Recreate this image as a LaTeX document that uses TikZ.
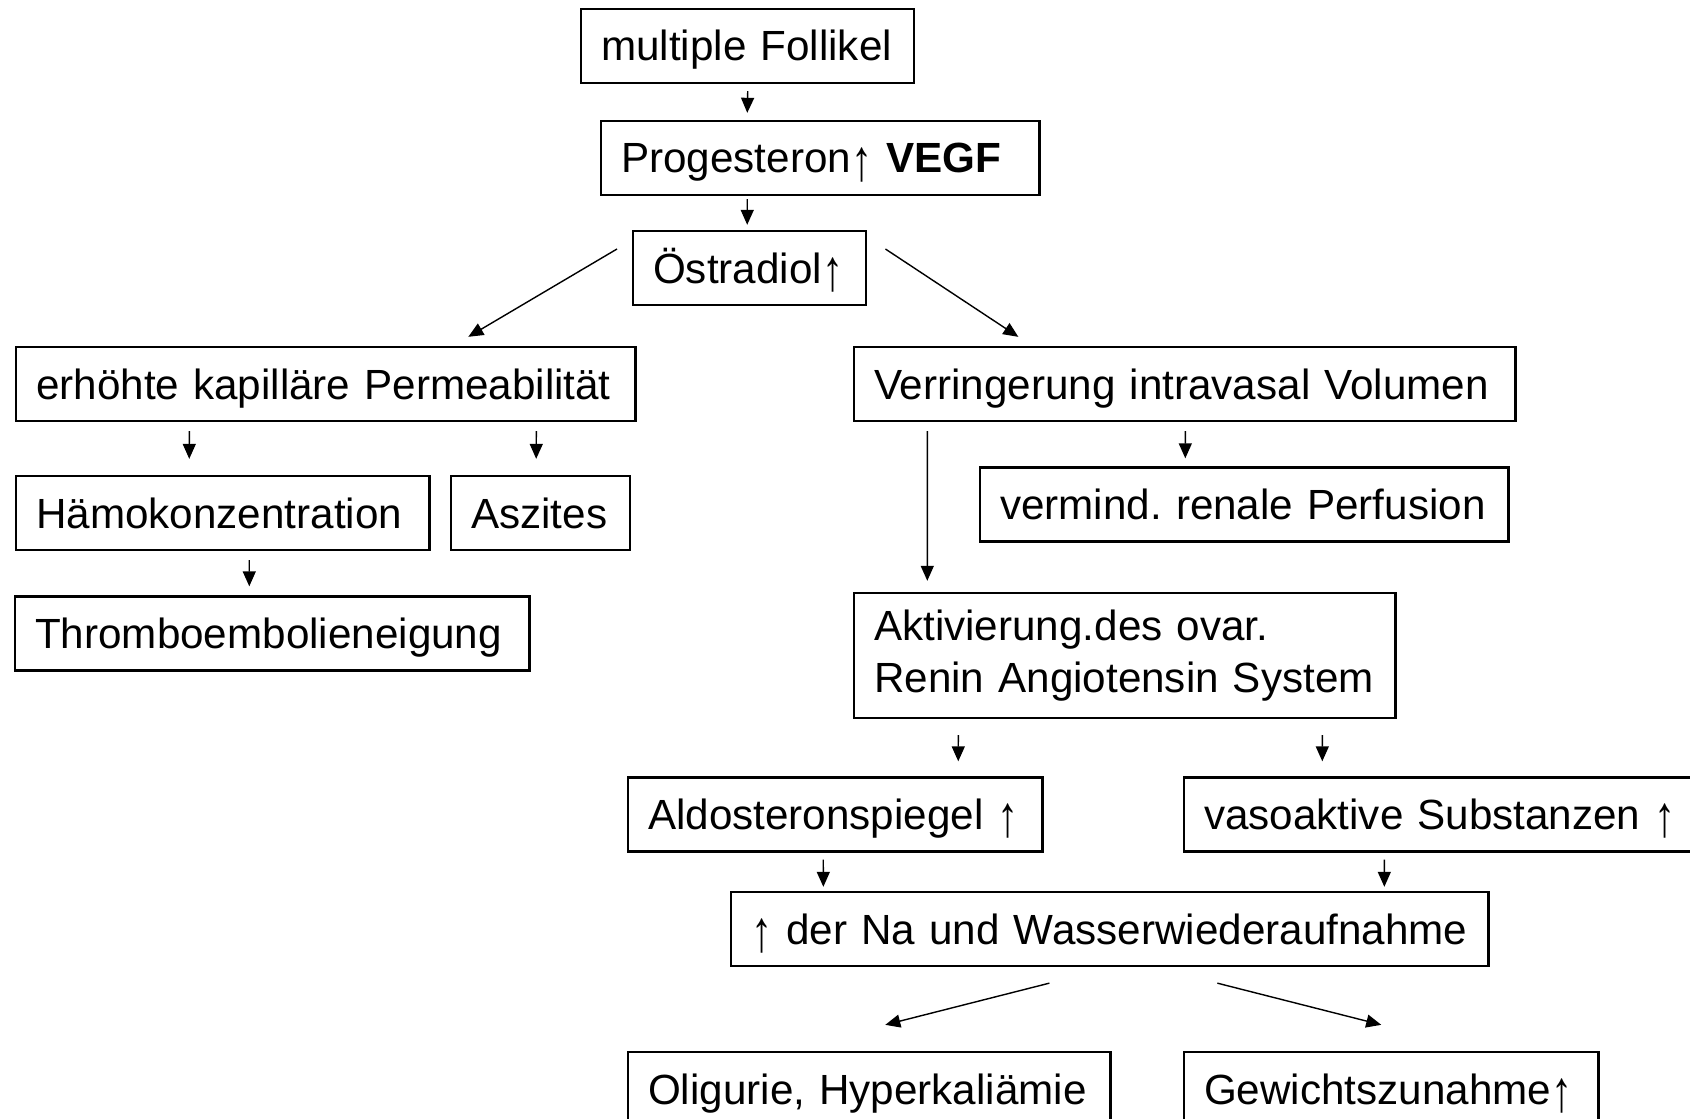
\documentclass[tikz,border=0pt]{standalone}
\usepackage{fontspec}
\setmainfont{Liberation Sans}
\newcommand{\uparr}{\raisebox{-0.17em}{\scalebox{1}[1.38]{↑}}}
\usepackage{tikz}
\usetikzlibrary{arrows.meta}

\tikzset{
  box/.style={draw,line width=0.65pt,anchor=west,align=left,inner xsep=0.2cm,inner ysep=0pt,
    minimum height=0.74cm,text height=0.36cm,text depth=0.06cm},
  arr/.style={->,line width=0.4pt}
}

\begin{document}
\frenchspacing
\begin{tikzpicture}[x=0.01cm,y=-0.01cm,>={Triangle[length=1.5mm,width=1.3mm]},font=\fontsize{12}{14.75}\selectfont]
\useasboundingbox (0,0) rectangle (1690,1119);
% boxes
\node[box,text width=2.93cm] (foll) at (580,46) {multiple Follikel};
\node[box,text width=3.98cm] (prog) at (600,158) {Progesteron\uparr\ \textbf{VEGF}};
\node[box,text width=1.93cm] (oest) at (632,268) {Östradiol\uparr};
\node[box,text width=5.79cm] (perm) at (15,384) {erhöhte kapilläre Permeabilität};
\node[box,text width=6.21cm] (verr) at (853,384) {Verringerung intravasal Volumen};
\node[box,text width=3.73cm] (haem) at (15,513) {Hämokonzentration};
\node[box,text width=1.39cm] (asz) at (450,513) {Aszites};
\node[box,text width=4.88cm] (perf) at (979,504.5) {\mbox{vermind. renale Perfusion}};
\node[box,text width=4.74cm] (thr) at (14,633.5) {Thromboembolieneigung};
\node[box,text width=5.01cm,minimum height=1.25cm,text height={},text depth={}] (raas) at (853,655.5)
  {Aktivierung.des ovar.\\Renin Angiotensin System};
\node[box,text width=3.74cm] (aldo) at (627,814.5) {Aldosteronspiegel \uparr};
\node[box,text width=4.8cm] (vaso) at (1183,814.5) {vasoaktive Substanzen \uparr};
\node[box,text width=7.17cm] (na) at (730,929) {\uparr\ der Na und Wasserwiederaufnahme};
\node[box,text width=4.42cm] (olig) at (627,1089) {Oligurie, Hyperkaliämie};
\node[box,text width=3.74cm] (gew) at (1183,1089) {Gewichtszunahme\uparr};
% arrows
\draw[arr] ([shift={(0,7)}]foll.south) -- ([shift={(-73,-7)}]prog.north);
\draw[arr] ([shift={(-73,3)}]prog.south) -- ([shift={(-2.5,-5)}]oest.north);
\draw[arr] ([shift={(-15,-19)}]oest.west) -- ([shift={(142.5,-9)}]perm.north);
\draw[arr] ([shift={(18,-19)}]oest.east) -- ([shift={(-166.5,-9)}]verr.north);
\draw[arr] ([shift={(-136.5,9)}]perm.south) -- ([shift={(-33.5,-16)}]haem.north);
\draw[arr] ([shift={(210.5,9)}]perm.south) -- ([shift={(-4.5,-16)}]asz.north);
\draw[arr] ([shift={(26.5,9)}]haem.south) -- ([shift={(-23,-9)}]thr.north);
\draw[arr] ([shift={(0.5,9)}]verr.south) -- ([shift={(-59,-8)}]perf.north);
\draw[arr] ([shift={(-257.5,9)}]verr.south) -- ([shift={(-197.5,-11)}]raas.north);
\draw[arr] ([shift={(-166.5,16)}]raas.south) -- ([shift={(123,-15)}]aldo.north);
\draw[arr] ([shift={(197.5,16)}]raas.south) -- ([shift={(-122,-15)}]vaso.north);
\draw[arr] ([shift={(-12,7)}]aldo.south) -- ([shift={(-286.5,-4)}]na.north);
\draw[arr] ([shift={(-60,7)}]vaso.south) -- ([shift={(274.5,-4)}]na.north);
\draw[arr] ([shift={(-60.5,16)}]na.south) -- ([shift={(16,-26)}]olig.north);
\draw[arr] ([shift={(107.5,16)}]na.south) -- ([shift={(-10,-26)}]gew.north);
\end{tikzpicture}
\end{document}
